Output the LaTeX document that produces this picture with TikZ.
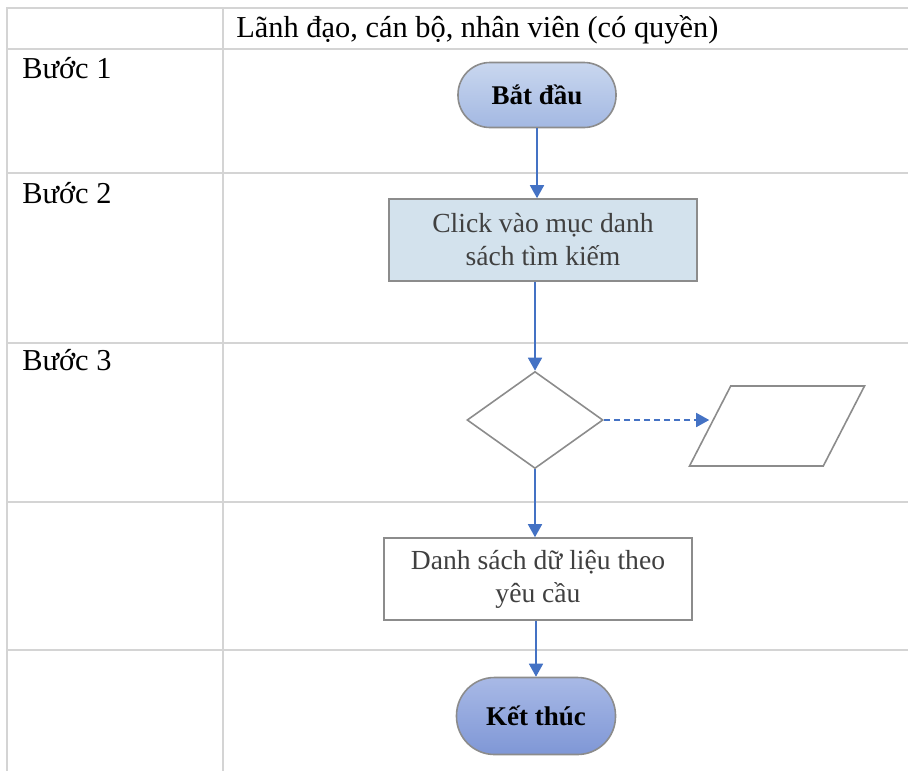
\documentclass[tikz,border=0pt]{standalone}
\usepackage{fontspec}
\setmainfont{Liberation Serif}
\usetikzlibrary{shapes.geometric,arrows.meta}
\definecolor{gridgray}{HTML}{D4D4D4}
\definecolor{edgegray}{HTML}{8C8C8C}
\definecolor{flowblue}{HTML}{4472C4}
\definecolor{paleblue}{HTML}{D3E2ED}
\definecolor{pilltop}{HTML}{C9D7EF}
\definecolor{pillbot}{HTML}{A3B8E2}
\definecolor{endtop}{HTML}{A8B9E6}
\definecolor{endbot}{HTML}{7F97D6}
\begin{document}
\begin{tikzpicture}[x=0.5pt,y=-0.5pt,
	grid/.style={draw=gridgray, line width=1pt},
	lbl/.style={anchor=base west, inner sep=0pt, font=\fontsize{15.2}{18}\selectfont},
	pill/.style={rectangle, draw=edgegray, line width=0.8pt, font=\fontsize{13.5}{16}\selectfont\bfseries},
	box/.style={rectangle, draw=edgegray, line width=0.8pt, text=black!75, align=center, minimum width=154pt, minimum height=41pt, font=\fontsize{13.8}{16.5}\selectfont},
	shapeline/.style={draw=edgegray, line width=0.8pt, inner sep=1pt},
	flow/.style={draw=flowblue, line width=0.8pt, -{Triangle[width=7pt,length=6.5pt]}}]
	\useasboundingbox (0,0) rectangle (908,771);
	% lanes
	\draw[grid] (908,8) -- (7,8) -- (7,771);
	\draw[grid] (223,8) -- (223,771);
	\foreach \y in {49,173,343,502,650}
		\draw[grid] (7,\y) -- (908,\y);
	\node (lane)	at (236, 37)	[lbl]	{Lãnh đạo, cán bộ, nhân viên (có quyền)};
	\node (step1)	at ( 22, 78)	[lbl]	{Bước 1};
	\node (step2)	at ( 22,203)	[lbl]	{Bước 2};
	\node (step3)	at ( 22,370)	[lbl]	{Bước 3};
	% flow
	\node (start)	at (537, 95)	[pill, minimum width=79pt, minimum height=32.5pt, rounded corners=16pt, top color=pilltop, bottom color=pillbot]	{Bắt đầu};
	\node (click)	at (543,240)	[box, fill=paleblue]	{Click vào mục danh\\sách tìm kiếm};
	\node (check)	at (535,420)	[diamond, shapeline, minimum width=68pt, minimum height=48.5pt]	{};
	\node (data)	at (777,426)	[trapezium, trapezium left angle=66, trapezium right angle=114, trapezium stretches=true, shapeline, minimum width=87.5pt, minimum height=40pt]	{};
	\node (list)	at (538,579)	[box, fill=white]	{Danh sách dữ liệu theo\\yêu cầu};
	\node (finish)	at (536,716)	[pill, minimum width=79.5pt, minimum height=38.5pt, rounded corners=19pt, top color=endtop, bottom color=endbot]	{Kết thúc};
	\draw[flow] (start) -- (start |- click.north);
	\draw[flow] (check |- click.south) -- (check);
	\draw[flow, dash pattern=on 3pt off 2pt] (check) -- (check -| data.west);
	\draw[flow] (check) -- (check |- list.north);
	\draw[flow] (finish |- list.south) -- (finish);
\end{tikzpicture}
\end{document}
